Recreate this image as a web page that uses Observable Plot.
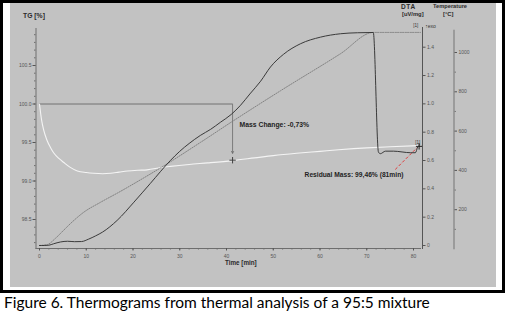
<!DOCTYPE html>
<html><head><meta charset="utf-8">
<script src="https://cdn.jsdelivr.net/npm/d3@7"></script>
<script src="https://cdn.jsdelivr.net/npm/@observablehq/plot@0.6"></script>
<style>
body{margin:0;width:507px;height:315px;position:relative;background:#fff;overflow:hidden;font-family:"Liberation Sans",Arial,sans-serif}
#frame{position:absolute;left:0;top:0;width:505px;height:293px;box-sizing:border-box;border:3.4px solid #000;background:#fff}
#panel{position:absolute;left:10px;top:3.4px;width:486px;height:284px;background:#c2c2c2}
.lbl{position:absolute;font-weight:bold;color:#2a2a2a;white-space:nowrap;line-height:1}
#caption{position:absolute;left:4px;top:294.5px;font-family:Lato,"Open Sans",sans-serif;font-size:15.5px;line-height:1;color:#000;white-space:nowrap}
</style></head>
<body>
<div id="frame"></div>
<div id="panel"></div>
<div id="charts"></div>
<div class="lbl" style="left:23px;top:13px;font-size:6.8px">TG [%]</div>
<div class="lbl" style="left:401px;top:4px;font-size:6.5px;letter-spacing:0.6px">DTA</div>
<div class="lbl" style="left:402px;top:11.5px;font-size:5.8px">[uV/mg]</div>
<div class="lbl" style="left:433px;top:4px;font-size:5.7px">Temperature</div>
<div class="lbl" style="left:443px;top:11.5px;font-size:5.8px">[°C]</div>
<div class="lbl" style="left:225px;top:259.5px;font-size:6.3px">Time [min]</div>
<div id="caption">Figure 6. Thermograms from thermal analysis&nbsp;of a 95:5 mixture</div>
<script>
// TG curve (mass, %)
const tgTime  = [0, 0.45, 0.9, 1.6, 2.4, 3.1, 4.2, 5.2, 6.5, 8.1, 10, 11.6, 13.5, 15.2, 17, 18.8, 21, 23, 26, 28, 32, 36, 41.3, 46, 50, 55, 60, 64, 70, 75, 81];
const tgValue = [100.0, 99.79, 99.66, 99.53, 99.43, 99.36, 99.29, 99.24, 99.18, 99.13, 99.11, 99.10, 99.095, 99.10, 99.115, 99.13, 99.14, 99.145, 99.175, 99.19, 99.215, 99.235, 99.265, 99.30, 99.33, 99.36, 99.385, 99.405, 99.43, 99.445, 99.46];
// DTA curve (uV/mg)
const dtaTime  = [0, 1, 2, 3, 4.5, 6, 7.5, 9, 10.5, 12, 13.5, 16.6, 20.2, 23.7, 28, 30, 32, 34.4, 36.6, 38.7, 41, 43, 45, 47.3, 49.4, 52.2, 55.8, 60.1, 64.4, 68, 71.4, 72.5, 72.9, 74, 75.7, 79.4, 80.4, 80.9, 81.3];
const dtaValue = [0, 0, 0.002, 0.012, 0.025, 0.03, 0.027, 0.028, 0.045, 0.068, 0.095, 0.177, 0.306, 0.438, 0.60, 0.665, 0.72, 0.777, 0.82, 0.87, 0.925, 0.99, 1.07, 1.16, 1.26, 1.35, 1.424, 1.471, 1.495, 1.502, 1.504, 0.66, 0.648, 0.666, 0.666, 0.655, 0.655, 0.695, 0.71];
// Temperature curve (°C)
const tempTime  = [0, 1.7, 3.4, 5.1, 7.1, 9.4, 13, 17.3, 21.6, 25.9, 34.4, 41.3, 51.6, 64.4, 71.4, 81.5];
const tempValue = [18, 23, 54, 94, 140, 186, 237, 293, 352, 413, 542, 650, 806, 994, 1102, 1102];
// tick labels
const xTicks = [0, 10, 20, 30, 40, 50, 60, 70, 80];
const tgTicks = [98.5, 99.0, 99.5, 100.0, 100.5];
const dtaTicks = [0, 0.2, 0.4, 0.6, 0.8, 1.0, 1.2, 1.4];
const tempTicks = [200, 400, 600, 800, 1000];
const tempMinor = [100, 300, 500, 700, 900];
// annotations
const massChangeLabel = "Mass Change: -0,73%";
const massChange = {time: 41.3, start: 100.0, arrowEnd: 99.36, end: 99.27};
const residualLabel = "Residual Mass: 99,46% (81min)";
const residual = {time: 81.2, value: 99.45};

const xScale = {domain: [0, 80], range: [39, 413]};
const font = "Liberation Sans, Arial, sans-serif";
const tg = tgTime.map((t, i) => ({t, v: tgValue[i]}));
const dta = dtaTime.map((t, i) => ({t, v: dtaValue[i]}));
const temp = tempTime.map((t, i) => ({t, v: tempValue[i]}));
const axisGray = "#6e6e6e";

const tgPlot = Plot.plot({
  width: 507, height: 290,
  marginLeft: 35.5, marginRight: 87, marginTop: 28, marginBottom: 42,
  x: xScale,
  y: {domain: [98.5, 100.5], range: [219, 65]},
  style: {fontFamily: font},
  marks: [
    Plot.frame({anchor: "left", stroke: axisGray}),
    Plot.frame({anchor: "bottom", stroke: axisGray}),
    Plot.axisY({anchor: "left", ticks: d3.range(98.2, 100.95, 0.1), tickSize: 1.5, tickFormat: () => "", color: axisGray, label: null}),
    Plot.axisY({anchor: "left", ticks: tgTicks, tickSize: 3, tickPadding: 1.5, tickFormat: d3.format(".1f"), fontSize: 5, color: "#555", label: null}),
    Plot.axisX({anchor: "bottom", ticks: d3.range(0, 82, 2), tickSize: 1.5, tickFormat: () => "", color: axisGray, label: null}),
    Plot.axisX({anchor: "bottom", ticks: xTicks, tickSize: 2.5, tickPadding: 3, fontSize: 5, color: "#555", label: null}),
    Plot.ruleY([massChange.start], {x1: 0, x2: massChange.time, stroke: "#6a6a6a", strokeWidth: 0.9}),
    Plot.line(tg, {x: "t", y: "v", stroke: "#f4f4f4", strokeWidth: 1.1, curve: "monotone-x"}),
    Plot.arrow([massChange], {x1: "time", y1: "start", x2: "time", y2: "arrowEnd", stroke: "#6a6a6a", strokeWidth: 0.8, headLength: 4}),
    Plot.dot([massChange], {x: "time", y: "end", symbol: "plus", r: 2.2, stroke: "#333", strokeWidth: 0.9}),
    Plot.text([massChangeLabel], {x: 42.8, y: 99.73, text: d => d, textAnchor: "start", fontSize: 6.8, fontWeight: "bold", fill: "#222"}),
    Plot.text([residualLabel], {x: 56.7, y: 99.085, text: d => d, textAnchor: "start", fontSize: 6.7, fontWeight: "bold", fill: "#222"}),
    Plot.link([residual], {x1: 76.1, y1: 99.15, x2: 80.8, y2: 99.435, stroke: "#e03a3a", strokeWidth: 1, strokeDasharray: "3,2"}),
    Plot.dot([residual], {x: "time", y: "value", symbol: "plus", r: 2.2, stroke: "#111", strokeWidth: 0.9}),
    Plot.text(["[1]"], {x: 80.9, y: 99.5, text: d => d, fontSize: 4.5, fill: "#333"})
  ]
});

const dtaPlot = Plot.plot({
  width: 507, height: 290,
  marginLeft: 0, marginRight: 85, marginTop: 27, marginBottom: 42,
  x: {...xScale, axis: null},
  y: {domain: [0, 1.4], range: [245, 46.7]},
  style: {fontFamily: font},
  marks: [
    Plot.frame({anchor: "right", stroke: "#555"}),
    Plot.axisY({anchor: "right", ticks: dtaTicks, tickSize: 2.5, tickPadding: 2, tickFormat: d => d === 0 ? "0" : d.toFixed(1), fontSize: 5, color: "#555", label: null}),
    Plot.line(dta, {x: "t", y: "v", stroke: "#333", strokeWidth: 0.95, curve: "monotone-x"}),
    Plot.text(["[1]"], {x: 80.5, y: 1.55, text: d => d, fontSize: 4.5, fill: "#333"}),
    Plot.text(["↑exo"], {x: 82.5, y: 1.55, text: d => d, textAnchor: "start", fontSize: 5, fill: "#333"})
  ]
});

const tempPlot = Plot.plot({
  width: 507, height: 290,
  marginLeft: 0, marginRight: 53.5, marginTop: 30, marginBottom: 42,
  x: {...xScale, axis: null},
  y: {domain: [0, 1000], range: [248.5, 52]},
  style: {fontFamily: font},
  marks: [
    Plot.frame({anchor: "right", stroke: "#8a8a8a", strokeWidth: 1.4}),
    Plot.axisY({anchor: "right", ticks: tempMinor, tickSize: 1.5, tickFormat: () => "", color: "#777", label: null}),
    Plot.axisY({anchor: "right", ticks: tempTicks, tickSize: 2.5, tickPadding: 2, tickFormat: d3.format("d"), fontSize: 5, color: "#555", label: null}),
    Plot.line(temp, {x: "t", y: "v", stroke: "#7c7c7c", strokeWidth: 0.9, strokeDasharray: "1.2,1.3", curve: "monotone-x"})
  ]
});

for (const svg of [tgPlot, tempPlot, dtaPlot]) {
  svg.style.position = "absolute";
  svg.style.left = "0px";
  svg.style.top = "0px";
  svg.style.background = "transparent";
  svg.style.overflow = "visible";
  svg.style.maxWidth = "none";
  document.getElementById("charts").appendChild(svg);
}
</script>
</body></html>
